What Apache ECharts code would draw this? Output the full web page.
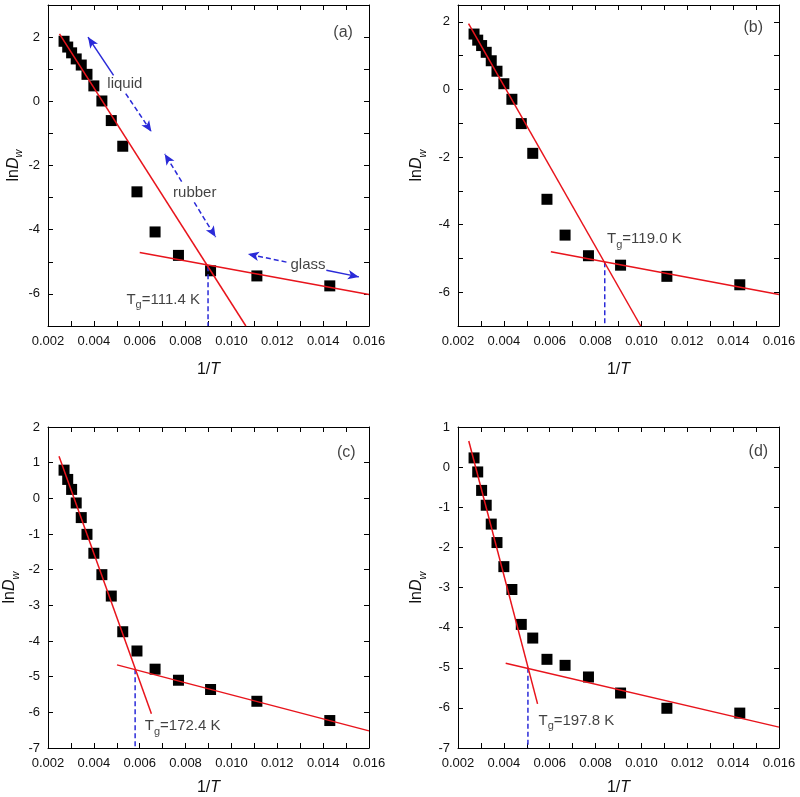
<!DOCTYPE html>
<html>
<head>
<meta charset="utf-8">
<script src="https://cdn.jsdelivr.net/npm/echarts/dist/echarts.min.js"></script>
<style>html,body{margin:0;padding:0;background:#fff}#c{width:800px;height:797px}</style>
</head>
<body>
<div id="c"></div>
<script>
// 1/T values (same for all panels)
const invT = [0.00270, 0.00286, 0.00303, 0.00323, 0.00345, 0.00370, 0.00400, 0.00435, 0.00476, 0.00526, 0.00588, 0.00667, 0.00769, 0.00909, 0.01111, 0.01429];
// ln Dw values
const lnA = [1.87, 1.69, 1.51, 1.32, 1.13, 0.84, 0.48, 0.01, -0.60, -1.40, -2.82, -4.07, -4.80, -5.28, -5.44, -5.75];
const lnB = [1.64, 1.46, 1.30, 1.10, 0.85, 0.54, 0.17, -0.29, -1.01, -1.89, -3.25, -4.31, -4.92, -5.20, -5.53, -5.78];
const lnC = [0.79, 0.53, 0.25, -0.13, -0.54, -1.01, -1.54, -2.14, -2.74, -3.74, -4.28, -4.79, -5.10, -5.36, -5.69, -6.23];
const lnD = [0.23, -0.12, -0.58, -0.95, -1.42, -1.88, -2.48, -3.05, -3.92, -4.26, -4.79, -4.94, -5.23, -5.63, -6.01, -6.13];
// fitted lines (endpoints)
const liqA = [[0.0025, 2.1], [0.01063, -7]];
const glaA = [[0.006, -4.71], [0.016, -6.02]];
const liqB = [[0.00246, 1.95], [0.00997, -7]];
const glaB = [[0.00605, -4.80], [0.016, -6.07]];
const liqC = [[0.00248, 1.18], [0.00651, -6.04]];
const glaC = [[0.00501, -4.67], [0.016, -6.52]];
const liqD = [[0.00247, 0.65], [0.00547, -5.90]];
const glaD = [[0.00408, -4.89], [0.016, -6.48]];
// Tg positions (1/Tg, lnDw at crossing)
const tgA = [0.00898, -5.14];
const tgB = [0.00840, -5.11];
const tgC = [0.00580, -4.79];
const tgD = [0.00505, -5.00];
const tgLabels = ['111.4 K', '119.0 K', '172.4 K', '197.8 K'];
const panelLabels = ['(a)', '(b)', '(c)', '(d)'];
const yRanges = [[-7, 3], [-7, 2.5], [-7, 2], [-7, 1]];
const yLabelEvery = [2, 2, 1, 1];

const FONT = 'Liberation Sans, Arial, sans-serif';
const RED = '#e8141c';
const BLUE = '#2a2ad8';

const grids = [
  {left: 48, top: 5, width: 321, height: 321},
  {left: 458, top: 5, width: 321, height: 321},
  {left: 48, top: 427, width: 321, height: 321},
  {left: 458, top: 427, width: 321, height: 321}
];
const yNameGap = [22, 30, 27, 30];
const xNameGap = [36, 36, 32, 32];

const xAxes = [], yAxes = [], series = [];
const tickStyle = {inside: true, length: 5, lineStyle: {color: '#000', width: 1}};
const lineAx = {onZero: false, lineStyle: {color: '#000', width: 1}};

const panels = [
  {ln: lnA, liq: liqA, gla: glaA, tg: tgA, tgText: [0.00542, -6.18], lab: [0.01487, 2.15]},
  {ln: lnB, liq: liqB, gla: glaB, tg: tgB, tgText: [0.00850, -4.43], lab: [0.01488, 1.83]},
  {ln: lnC, liq: liqC, gla: glaC, tg: tgC, tgText: [0.00622, -6.39], lab: [0.01501, 1.28]},
  {ln: lnD, liq: liqD, gla: glaD, tg: tgD, tgText: [0.00551, -6.32], lab: [0.0151, 0.38]}
];

panels.forEach((p, i) => {
  const [ymin, ymax] = yRanges[i];
  const every = yLabelEvery[i];
  xAxes.push({
    gridIndex: i, type: 'value', min: 0.002, max: 0.016, interval: 0.001,
    axisLine: lineAx, axisTick: tickStyle, splitLine: {show: false},
    axisLabel: {color: '#111', fontSize: 13, fontFamily: FONT, margin: 9,
      formatter: v => (Math.round(v * 1000) % 2 === 0 ? v.toFixed(3) : '')},
    name: '{n|1/}{i|T}', nameLocation: 'middle', nameGap: xNameGap[i],
    nameTextStyle: {fontFamily: FONT, color: '#111', rich: {n: {fontSize: 16, fontFamily: FONT, color: '#111'}, i: {fontSize: 16, fontStyle: 'italic', fontFamily: FONT, color: '#111'}}}
  });
  xAxes.push({
    gridIndex: i, type: 'value', position: 'top', min: 0.002, max: 0.016, interval: 0.001,
    axisLine: lineAx, axisTick: tickStyle, axisLabel: {show: false}, splitLine: {show: false}
  });
  yAxes.push({
    gridIndex: i, type: 'value', min: ymin, max: ymax, interval: 1,
    axisLine: lineAx, axisTick: tickStyle, splitLine: {show: false},
    axisLabel: {color: '#111', fontSize: 13, fontFamily: FONT, margin: 8,
      formatter: v => (Math.round(v) % every === 0 ? String(v) : ''), showMaxLabel: Number.isInteger(ymax)},
    name: '{n|ln}{i|D}{s|w}', nameLocation: 'middle', nameGap: yNameGap[i],
    nameTextStyle: {fontFamily: FONT, color: '#111', rich: {
      n: {fontSize: 16, fontFamily: FONT, color: '#111', lineHeight: 22},
      i: {fontSize: 16, fontStyle: 'italic', fontFamily: FONT, color: '#111', lineHeight: 22},
      s: {fontSize: 11, fontStyle: 'italic', fontFamily: FONT, color: '#111', lineHeight: 10, verticalAlign: 'bottom'}
    }}
  });
  yAxes.push({
    gridIndex: i, type: 'value', position: 'right', min: ymin, max: ymax, interval: 1,
    axisLine: lineAx, axisTick: tickStyle, axisLabel: {show: false}, splitLine: {show: false}
  });
  const xi = 2 * i, yi = 2 * i;
  series.push({
    type: 'scatter', xAxisIndex: xi, yAxisIndex: yi, symbol: 'rect', symbolSize: 11, z: 2,
    itemStyle: {color: '#000', opacity: 1}, data: invT.map((x, k) => [x, p.ln[k]])
  });
  series.push({
    type: 'line', xAxisIndex: xi, yAxisIndex: yi, symbol: 'none', z: 4,
    lineStyle: {color: RED, width: 1.5}, data: p.liq
  });
  series.push({
    type: 'line', xAxisIndex: xi, yAxisIndex: yi, symbol: 'none', z: 4,
    lineStyle: {color: RED, width: 1.5}, data: p.gla
  });
  const tgSeries = {
    type: 'line', xAxisIndex: xi, yAxisIndex: yi, symbol: 'none', z: 3,
    lineStyle: {color: BLUE, width: 1.5, type: [5, 3]}, data: [[p.tg[0], p.tg[1]], [p.tg[0], -7]]
  };
  if (i === 0) {
    const solid = {type: 'solid'}, dash = {type: [5, 3]};
    const seg = (a, b, st) => [{coord: a, lineStyle: st}, {coord: b}];
    tgSeries.markLine = {
      silent: true, animation: false, symbol: ['none', 'arrow'], symbolSize: [7, 11],
      label: {show: false},
      lineStyle: {color: BLUE, width: 1.5},
      data: [
        seg([0.00486, 0.81], [0.003745, 2.0], solid),
        seg([0.00539, 0.24], [0.00651, -0.95], dash),
        seg([0.00783, -2.50], [0.00709, -1.64], dash),
        seg([0.00838, -3.15], [0.00931, -4.23], dash),
        seg([0.0124, -5.01], [0.01072, -4.76], dash),
        seg([0.01414, -5.26], [0.01556, -5.47], solid)
      ]
    };
    series.push({
      type: 'scatter', xAxisIndex: xi, yAxisIndex: yi, symbolSize: 0, z: 6, silent: true,
      label: {show: true, position: 'inside', formatter: d => d.data[2], fontSize: 15, fontFamily: FONT, color: '#111'},
      data: [[0.00535, 0.55, 'liquid'], [0.0084, -2.86, 'rubber'], [0.01334, -5.11, 'glass']]
    });
  }
  series.push(tgSeries);
  series.push({
    type: 'scatter', xAxisIndex: xi, yAxisIndex: yi, symbolSize: 0, z: 6, silent: true,
    label: {show: true, position: 'right', distance: 0, formatter: d => d.data[2], fontSize: 15, fontFamily: FONT, color: '#111',
      rich: {
        t: {fontSize: 15, fontFamily: FONT, color: '#111', lineHeight: 22},
        s: {fontSize: 11, fontFamily: FONT, color: '#111', lineHeight: 10, verticalAlign: 'bottom'}
      }},
    data: [[p.tgText[0], p.tgText[1], '{t|T}{s|g}{t|=' + tgLabels[i] + '}']]
  });
  series.push({
    type: 'scatter', xAxisIndex: xi, yAxisIndex: yi, symbolSize: 0, z: 6, silent: true,
    label: {show: true, position: 'inside', formatter: d => d.data[2], fontSize: 16, fontFamily: FONT, color: '#111'},
    data: [[p.lab[0], p.lab[1], panelLabels[i]]]
  });
});

const chart = echarts.init(document.getElementById('c'));
chart.setOption({
  animation: false,
  backgroundColor: '#fff',
  grid: grids,
  xAxis: xAxes,
  yAxis: yAxes,
  series: series
});
</script>
</body>
</html>
